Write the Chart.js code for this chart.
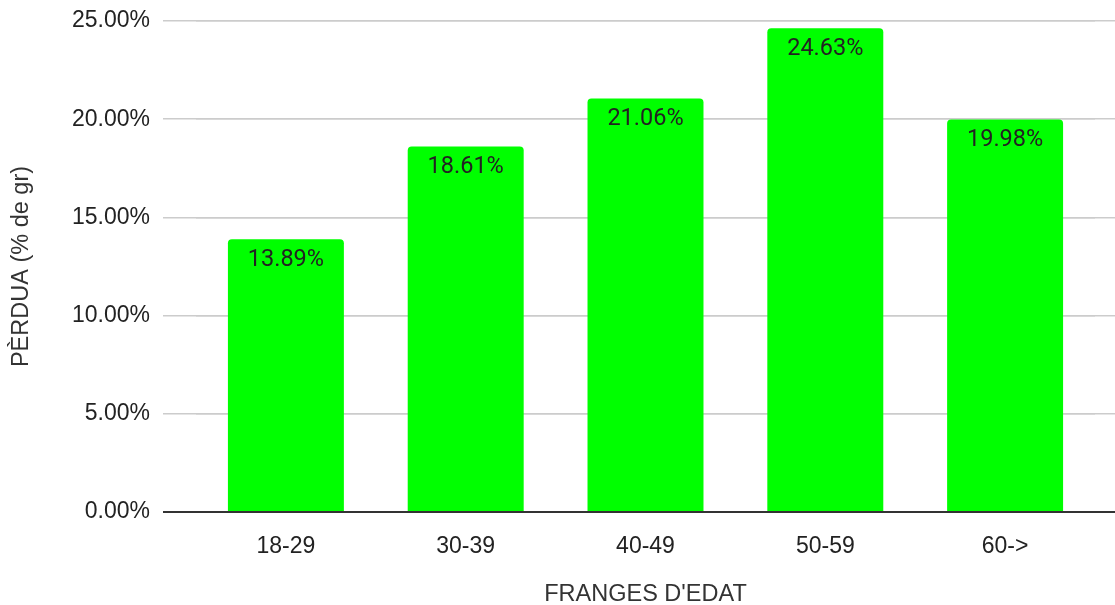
<!DOCTYPE html>
<html>
<head>
<meta charset="utf-8">
<script src="https://cdn.jsdelivr.net/npm/chart.js@4"></script>
<style>
  html, body { margin: 0; padding: 0; background: #fff; }
  #wrap { width: 1115px; height: 605px; }
</style>
</head>
<body>
<div id="wrap"><canvas id="canvas"></canvas></div>
<script>
const categories = ['18-29', '30-39', '40-49', '50-59', '60->'];
const perdua = [13.89, 18.61, 21.06, 24.63, 19.98];
const yTicks = [0, 5, 10, 15, 20, 25];

const gridColor = (ctx) => (ctx.tick && ctx.tick.value === 0 ? '#333333' : '#cccccc');
const gridWidth = (ctx) => (ctx.tick && ctx.tick.value === 0 ? 2 : 1.5);

// value labels inside the top of each bar
const barLabels = {
  id: 'barLabels',
  afterDatasetsDraw(chart) {
    const ctx = chart.ctx;
    const meta = chart.getDatasetMeta(0);
    ctx.save();
    ctx.font = '23.5px Roboto';
    ctx.fillStyle = '#222222';
    ctx.textAlign = 'center';
    ctx.textBaseline = 'middle';
    meta.data.forEach((bar, i) => {
      ctx.fillText(perdua[i].toFixed(2) + '%', bar.x, bar.y + 21);
    });
    ctx.restore();
  },
};

new Chart(document.getElementById('canvas'), {
  type: 'bar',
  data: {
    labels: categories,
    datasets: [
      {
        data: perdua,
        backgroundColor: '#00ff00',
        borderRadius: 4,
        categoryPercentage: 1,
        barPercentage: 0.645,
      },
    ],
  },
  options: {
    responsive: true,
    maintainAspectRatio: false,
    animation: false,
    layout: { padding: 0 },
    plugins: {
      legend: { display: false },
      tooltip: { enabled: false },
    },
    scales: {
      x: {
        grid: { display: false },
        border: { display: false },
        ticks: {
          color: '#222222',
          padding: 13,
          font: { family: 'Liberation Sans, Arial', size: 23 },
        },
        title: {
          display: true,
          text: "FRANGES D'EDAT",
          color: '#333333',
          padding: { top: 0, bottom: -1 },
          font: { family: 'Liberation Sans, Arial', size: 23.5, lineHeight: 1 },
        },
        afterFit: (s) => { s.height = 93; },
      },
      y: {
        min: 0,
        max: 25,
        afterBuildTicks: (s) => { s.ticks = yTicks.map((v) => ({ value: v })); },
        grid: { color: gridColor, lineWidth: gridWidth, tickLength: 33 },
        border: { display: false },
        ticks: {
          color: '#222222',
          padding: 13,
          font: { family: 'Liberation Sans, Arial', size: 23 },
          callback: (v) => v.toFixed(2) + '%',
        },
        title: {
          display: true,
          text: 'PÈRDUA (% de gr)',
          color: '#333333',
          padding: { top: 10, bottom: 0 },
          font: { family: 'Liberation Sans, Arial', size: 23.5, lineHeight: 1 },
        },
        afterFit: (s) => {
          s.width = 196;
          s.paddingTop = 21;
        },
      },
      y2: {
        position: 'right',
        min: 0,
        max: 25,
        afterBuildTicks: (s) => { s.ticks = yTicks.map((v) => ({ value: v })); },
        grid: { color: gridColor, lineWidth: gridWidth, tickLength: 20 },
        border: { display: false },
        ticks: { display: false },
        afterFit: (s) => { s.width = 20; },
      },
    },
  },
  plugins: [barLabels],
});
</script>
</body>
</html>
